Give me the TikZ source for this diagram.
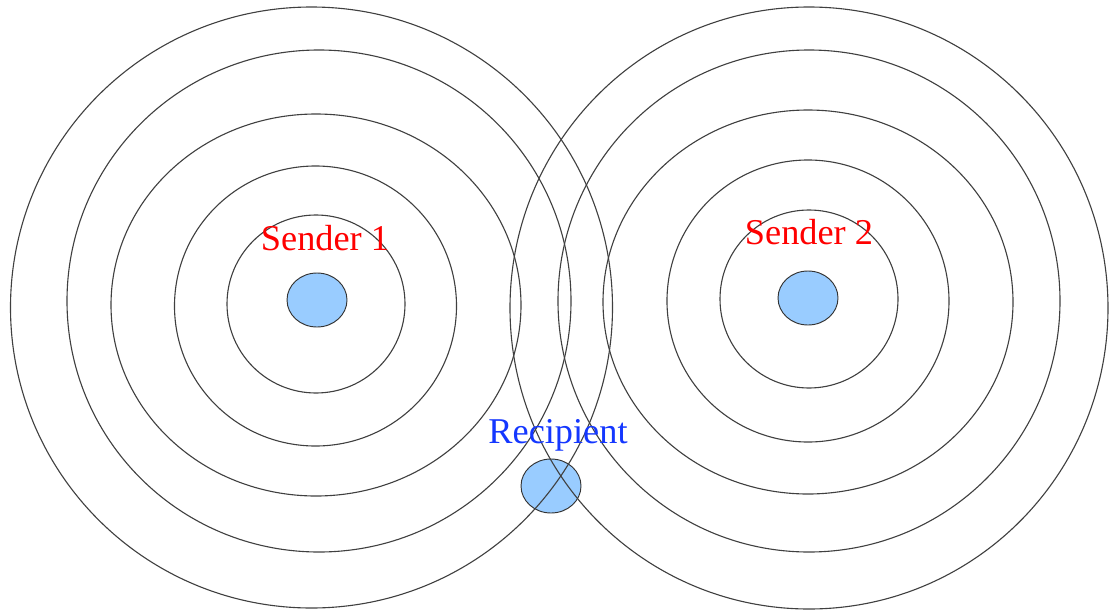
\documentclass[tikz,border=0pt]{standalone}
\usepackage{fontspec}
\setmainfont{Liberation Serif}
\usepackage{tikz}
\usetikzlibrary{shapes.geometric}
\definecolor{blobfill}{RGB}{153,204,255}
\definecolor{sendred}{RGB}{255,0,0}
\definecolor{recblue}{RGB}{20,55,255}

\begin{document}
\begin{tikzpicture}[x=0.03cm,y=-0.03cm,
  blob/.style={ellipse,draw=black!80,fill=blobfill,line width=0.8pt,
    minimum width=1.8cm,minimum height=1.62cm,inner sep=0pt},
  ring/.style={draw=black!75,line width=0.95pt},
  lbl/.style={font=\fontsize{31}{31}\selectfont,inner sep=0pt,anchor=base}]

\useasboundingbox (0,0) rectangle (1109,610);

% --- Nodi
\node[blob] (s1)  at (317,300) {};
\node[blob] (s2)  at (808,298) {};
\node[blob] (rec) at (551,486) {};

% --- Onde: centro x, centro y, raggio x, raggio y
\foreach \cx/\cy/\rx/\ry in {316/304/89/89, 315.5/306/141/140, 316/305/205/191,
                             319/301/252/251, 311.5/307.5/301/300.5,
                             809/299/89/89, 808/301/141/141, 808/302/205/192,
                             809/301/251/251, 809/308/299/301}
  \draw[ring] (\cx,\cy) ellipse [x radius=\rx, y radius=\ry];

% --- Etichette
\node[lbl,text=sendred] (s1lbl)  at (325,250) {Sender 1};
\node[lbl,text=sendred] (s2lbl)  at (809,244) {Sender 2};
\node[lbl,text=recblue] (reclbl) at (558,443) {Recipient};

\end{tikzpicture}
\end{document}
